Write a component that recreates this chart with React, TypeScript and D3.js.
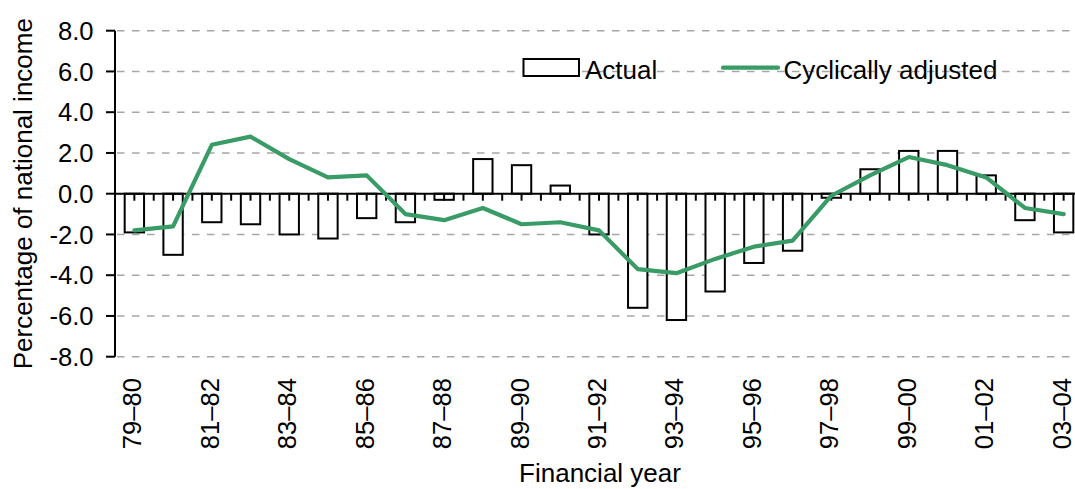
import React from "react";
import * as d3 from "d3";

const categories = ["79–80","80–81","81–82","82–83","83–84","84–85","85–86","86–87","87–88","88–89","89–90","90–91","91–92","92–93","93–94","94–95","95–96","96–97","97–98","98–99","99–00","00–01","01–02","02–03","03–04"];
const actual = [-1.9,-3.0,-1.4,-1.5,-2.0,-2.2,-1.2,-1.4,-0.3,1.7,1.4,0.4,-2.0,-5.6,-6.2,-4.8,-3.4,-2.8,-0.2,1.2,2.1,2.1,0.9,-1.3,-1.9];
const cyclical = [-1.8,-1.6,2.4,2.8,1.7,0.8,0.9,-1.0,-1.3,-0.7,-1.5,-1.4,-1.8,-3.7,-3.9,-3.2,-2.6,-2.3,-0.1,0.9,1.8,1.4,0.8,-0.7,-1.0];
const yTicks = [-8,-6,-4,-2,0,2,4,6,8];
const seriesNames = ["Actual", "Cyclically adjusted"];
const xTitle = "Financial year";
const yTitle = "Percentage of national income";

const W = 1075, H = 489;
const left = 115, right = 1083, top = 30.7, bottom = 356.7;
const GREEN = "#399b66";
const FONT = "Arial, 'Liberation Sans', sans-serif";

export default function App() {
  const x = d3.scaleBand<string>().domain(categories).range([left, right]).paddingInner(0).paddingOuter(0);
  const y = d3.scaleLinear().domain([-8, 8]).range([bottom, top]);
  const bw = x.bandwidth();
  const barW = bw * 0.5;
  const cx = (c: string) => (x(c) as number) + bw / 2;
  const line = d3.line<number>().x((_, i) => cx(categories[i])).y((d) => y(d));
  const y0 = y(0);

  const tickXs: number[] = [];
  categories.forEach((c) => {
    tickXs.push(x(c) as number);
    tickXs.push(cx(c));
  });

  return (
    <svg width={W} height={H} style={{ position: "absolute", left: 0, top: 0, background: "#fff" }} fontFamily={FONT}>
      <rect x={0} y={0} width={W} height={H} fill="#fff" />
      {yTicks.filter((t) => t !== 0).map((t) => (
        <line key={"g" + t} x1={117} x2={W} y1={y(t)} y2={y(t)} stroke="#a6a6a6" strokeWidth={1.5} strokeDasharray="7.5,7.5" />
      ))}
      {actual.map((v, i) => {
        const c = categories[i];
        const yy = Math.min(y(v), y0);
        const h = Math.abs(y(v) - y0);
        return <rect key={"b" + i} x={cx(c) - barW / 2} y={yy} width={barW} height={h} fill="#fff" stroke="#000" strokeWidth={2} />;
      })}
      <line x1={left} x2={W} y1={y0} y2={y0} stroke="#000" strokeWidth={2} />
      {tickXs.map((tx, i) => (
        <line key={"t" + i} x1={tx} x2={tx} y1={y0} y2={y0 + 7} stroke="#000" strokeWidth={2} />
      ))}
      <path d={line(cyclical) || ""} fill="none" stroke={GREEN} strokeWidth={4.2} strokeLinejoin="round" strokeLinecap="round" />
      <line x1={left} x2={left} y1={top} y2={bottom} stroke="#000" strokeWidth={2} />
      {yTicks.map((t) => (
        <g key={"y" + t}>
          <line x1={106} x2={left} y1={y(t)} y2={y(t)} stroke="#000" strokeWidth={2} />
          <text x={93.5} y={y(t)} dy="0.355em" textAnchor="end" fontSize={25.6} fill="#000">{t.toFixed(1)}</text>
        </g>
      ))}
      {categories.map((c, i) => i % 2 === 0 ? (
        <text key={"x" + i} transform={`translate(${cx(c) + 7},378) rotate(-90)`} textAnchor="end" fontSize={25.6} fill="#000">{c}</text>
      ) : null)}
      <text x={600} y={482} textAnchor="middle" fontSize={26} fill="#000">{xTitle}</text>
      <text transform={`translate(31.5,${(top + bottom) / 2}) rotate(-90)`} textAnchor="middle" fontSize={26} fill="#000">{yTitle}</text>
      <rect x={523.5} y={59} width={55.5} height={17} fill="#fff" stroke="#000" strokeWidth={2} />
      <text x={585} y={79} fontSize={26} fill="#000">{seriesNames[0]}</text>
      <line x1={723} x2={778} y1={67.7} y2={67.7} stroke={GREEN} strokeWidth={4.2} strokeLinecap="round" />
      <text x={783.5} y={79} fontSize={26} fill="#000">{seriesNames[1]}</text>
    </svg>
  );
}
